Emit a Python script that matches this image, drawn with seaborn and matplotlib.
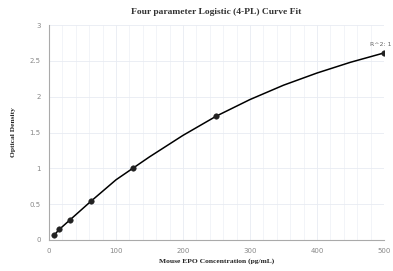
import matplotlib
matplotlib.use("Agg")
import matplotlib.pyplot as plt
import seaborn as sns
import pandas as pd
import numpy as np

# Standard points
conc = [7.8, 15.6, 31.25, 62.5, 125, 250, 500]
od = [0.07, 0.15, 0.28, 0.54, 1.00, 1.73, 2.61]

# Fitted curve
curve_x = [7.8, 15.6, 31.25, 62.5, 100, 125, 150, 200, 250, 300, 350, 400, 450, 500]
curve_y = [0.07, 0.15, 0.28, 0.54, 0.84, 1.00, 1.16, 1.46, 1.73, 1.96, 2.16, 2.33, 2.48, 2.61]

title = "Four parameter Logistic (4-PL) Curve Fit"
xlabel = "Mouse EPO Concentration (pg/mL)"
ylabel = "Optical Density"
r2_label = "R^2: 1"

sns.set_style("white")
fig = plt.figure(figsize=(3.93, 2.71), dpi=100)
ax = fig.add_axes([0.1247, 0.1144, 0.977 - 0.1247, 0.9077 - 0.1144])

pts = pd.DataFrame({"x": conc, "y": od})
crv = pd.DataFrame({"x": curve_x, "y": curve_y})

sns.lineplot(data=crv, x="x", y="y", ax=ax, color="black", linewidth=1.1, zorder=3)
sns.scatterplot(data=pts, x="x", y="y", ax=ax, color="#222222", s=16, edgecolor="#222222", zorder=4)

ax.set_xlim(0, 500)
ax.set_ylim(0, 3)
ax.set_xticks([0, 100, 200, 300, 400, 500])
ax.set_xticks(np.arange(0, 501, 20), minor=True)
ax.set_yticks([0, 0.5, 1, 1.5, 2, 2.5, 3])
ax.set_yticklabels(["0", "0.5", "1", "1.5", "2", "2.5", "3"])
ax.set_xticklabels(["0", "100", "200", "300", "400", "500"])

ax.grid(True, which="major", axis="both", color="#e8ebf2", linewidth=0.6)
ax.grid(True, which="minor", axis="x", color="#f0f2f7", linewidth=0.6)
ax.set_axisbelow(True)

for s in ["top", "right"]:
    ax.spines[s].set_visible(False)
for s in ["left", "bottom"]:
    ax.spines[s].set_color("#aaaaaa")
    ax.spines[s].set_linewidth(0.8)

ax.tick_params(axis="both", which="major", labelsize=5, colors="#999999", length=2.5, width=0.6, direction="out")
ax.tick_params(axis="both", which="minor", length=0)
ax.tick_params(axis="both", which="major", labelcolor="#888888")

ax.set_xlabel(xlabel, family="Liberation Serif", fontweight="bold", fontsize=5.4, labelpad=3)
ax.set_ylabel(ylabel, family="Liberation Serif", fontweight="bold", fontsize=5.4, labelpad=10)
ax.set_title(title, family="Liberation Serif", fontweight="bold", fontsize=6.8, color="#333333", pad=8)

ax.annotate(r2_label, xy=(conc[-1], od[-1]), xytext=(-2, 4), textcoords="offset points",
            ha="center", va="bottom", fontsize=4.5, color="#666666")

fig.savefig("out.png", dpi=100)
